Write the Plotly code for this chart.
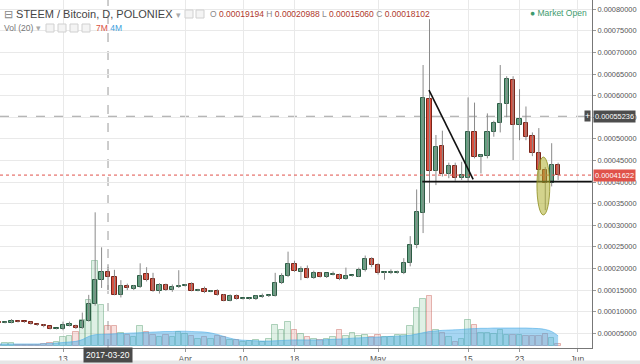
import plotly.graph_objects as go
import pandas as pd

# ---------------- data (prices in units of 1e-5 BTC, volume in millions) -------------
PRICE_UNIT = 1e-5
dates = pd.date_range("2017-03-03", "2017-05-29", freq="D")

open_e5 = [
    7.55, 7.45, 7.5, 7.8, 7.7, 7.6, 7.1, 6.85, 6.6, 6.05,
    5.9, 6.9, 6.8, 6.15, 7.9, 11.7, 17.3, 19.194, 18.0, 13.8,
    15.9, 15.3, 15.8, 18.7, 17.5, 14.9, 16.1, 15.0, 15.8,
    16.0, 16.5, 14.9, 15.2, 14.7, 14.9, 13.9, 12.5, 13.6, 13.0,
    13.0, 12.9, 13.6, 13.6, 13.7, 16.7, 18.3, 21.0, 19.3, 19.9,
    17.9, 18.9, 18.0, 18.7, 18.5, 17.6, 18.3, 18.1, 19.7, 22.2,
    20.7, 19.0, 19.0, 19.0, 18.9, 21.2, 25.4, 32.8, 59.2, 42.6,
    48.4, 41.9, 43.7, 40.9, 40.9, 51.5, 45.9, 46.1, 51.7, 53.6,
    58.1, 63.6, 53.2, 53.6, 50.7, 46.8, 42.8, 39.7, 44.0]
high_e5 = [
    7.7, 7.7, 8.3, 7.9, 7.8, 7.7, 7.2, 7.1, 6.7, 6.2,
    7.7, 7.7, 7.0, 9.8, 13.9, 33.0, 24.9, 20.988, 19.7, 17.3,
    16.5, 16.2, 21.2, 20.3, 19.0, 16.6, 16.5, 16.3, 19.6,
    16.4, 16.8, 15.3, 15.8, 15.0, 15.2, 14.1, 14.0, 14.0, 13.2,
    13.2, 13.8, 14.2, 13.9, 19.0, 18.9, 23.9, 21.8, 20.5, 20.7,
    19.5, 19.2, 19.0, 19.3, 18.8, 20.2, 18.5, 20.2, 23.0, 22.6,
    21.2, 19.3, 19.8, 19.5, 22.4, 27.5, 38.3, 67.1, 77.7, 50.9,
    51.9, 44.5, 44.5, 44.7, 59.6, 58.4, 46.4, 55.9, 54.2, 67.1,
    64.5, 64.5, 61.5, 57.5, 51.5, 52.5, 43.5, 49.0, 44.5]
low_e5 = [
    7.3, 7.3, 7.3, 7.5, 7.4, 7.0, 6.7, 6.4, 5.9, 5.9,
    5.7, 6.6, 6.0, 6.0, 7.7, 11.4, 15.5, 15.06, 13.8, 13.3,
    15.0, 15.0, 15.5, 17.0, 14.6, 14.2, 14.8, 14.6, 15.5,
    15.8, 14.7, 14.7, 14.3, 14.5, 13.7, 12.4, 12.4, 12.8, 12.8,
    12.8, 12.7, 13.2, 13.4, 13.5, 16.4, 18.0, 19.2, 17.3, 17.7,
    17.6, 17.9, 17.8, 18.4, 17.3, 17.4, 18.1, 18.0, 19.3, 20.3,
    18.6, 17.4, 18.7, 18.8, 18.7, 20.5, 24.7, 28.2, 35.2, 39.3,
    41.3, 40.9, 40.3, 40.5, 40.3, 45.5, 42.0, 45.5, 50.5, 51.5,
    55.0, 45.1, 49.7, 49.7, 46.0, 40.3, 33.5, 39.0, 40.5]
close_e5 = [
    7.45, 7.5, 7.8, 7.7, 7.6, 7.15, 6.85, 6.8, 6.05, 6.1,
    6.9, 6.95, 6.15, 7.9, 11.8, 17.3, 19.1, 18.102, 13.9, 15.9,
    15.4, 15.9, 18.3, 17.3, 14.9, 16.1, 15.0, 15.7, 16.0,
    16.1, 14.9, 15.0, 14.6, 14.8, 13.9, 12.5, 13.6, 12.9, 13.0,
    13.0, 13.6, 13.6, 13.7, 16.6, 18.3, 21.0, 19.4, 20.0, 17.9,
    18.9, 18.0, 18.9, 18.7, 17.6, 18.3, 18.3, 19.7, 22.2, 20.7,
    18.9, 19.0, 19.0, 19.1, 21.2, 25.4, 33.0, 59.4, 42.6, 48.2,
    41.9, 43.7, 40.9, 41.6, 51.5, 45.9, 46.2, 51.7, 53.6, 58.1,
    63.8, 53.2, 54.5, 50.5, 46.8, 42.8, 39.7, 44.0, 41.622]
volume_m = [
    0.5, 1.2, 1.0, 0.4, 0.4, 0.5, 0.5, 0.7, 1.2, 1.5,
    3.1, 3.4, 4.8, 9.0, 16.0, 29.3, 14.0, 7.0, 7.0, 4.5,
    3.8, 3.0, 6.9, 5.0, 3.8, 3.0, 3.8, 3.0, 4.8,
    4.0, 3.5, 2.5, 3.0, 2.5, 3.5, 3.0, 2.0, 2.2, 1.5,
    1.8, 2.0, 1.5, 2.5, 7.2, 5.5, 8.3, 5.5, 4.0, 3.0,
    2.5, 2.0, 2.5, 3.0, 5.5, 3.5, 4.5, 3.5, 3.8, 3.2,
    3.8, 3.2, 3.0, 3.8, 3.8, 6.9, 13.0, 16.2, 17.2, 5.5,
    4.5, 3.0, 1.4, 2.4, 9.0, 7.2, 4.5, 4.5, 4.2, 5.5,
    3.8, 3.8, 3.8, 3.5, 3.5, 3.5, 4.2, 2.8, 0.8]
vol_ma_m = [
    0.7, 0.7, 0.7, 0.7, 0.7, 0.7, 0.7, 0.8, 0.9, 1.0,
    1.2, 1.4, 1.6, 2.2, 3.3, 3.9, 4.0, 4.1, 4.2, 4.3,
    4.4, 4.5, 4.6, 4.7, 4.8, 4.9, 5.0, 5.0, 5.1,
    5.1, 5.0, 4.9, 4.8, 4.5, 4.0, 3.3, 2.7, 2.2, 2.0,
    1.9, 1.8, 1.7, 1.7, 1.8, 1.9, 2.0, 2.1, 2.1, 2.1,
    2.1, 2.1, 2.2, 2.3, 2.4, 2.5, 2.7, 2.8, 2.9, 3.0,
    3.1, 3.2, 3.3, 3.4, 3.5, 3.7, 4.1, 4.6, 5.0, 5.2,
    5.4, 5.5, 5.6, 5.7, 5.9, 6.0, 6.1, 6.1, 6.2, 6.2,
    6.2, 6.2, 6.2, 6.2, 6.1, 6.0, 5.7, 5.0, 3.5]

x_tick_dates = ["2017-03-13", "2017-04-01", "2017-04-10", "2017-04-18",
                "2017-05-01", "2017-05-15", "2017-05-23", "2017-06-01"]
x_tick_text = ["13", "Apr", "10", "18", "May", "15", "23", "Jun"]
y_tick_vals = [0.00005 * k for k in range(1, 17)]

header_title = "STEEM / Bitcoin, D, POLONIEX"
ohlc_hover = {"O": "0.00019194", "H": "0.00020988", "L": "0.00015060", "C": "0.00018102"}
crosshair_date = "2017-03-20"
last_price = 0.00041622
marked_price = 0.00055236
support_line = {"x": ["2017-05-07 21:00", "2017-06-03 06:00"], "y": [0.000401, 0.000401]}
trend_line = {"x": ["2017-05-08 22:00", "2017-05-15 19:00"], "y": [0.000613, 0.0004065]}
highlight_ellipse = {"x": ["2017-05-25 17:00", "2017-05-27 17:00"], "y": [0.000324, 0.000458]}

# ---------------- derived ----------------
o = [v * PRICE_UNIT for v in open_e5]
h = [v * PRICE_UNIT for v in high_e5]
l = [v * PRICE_UNIT for v in low_e5]
c = [v * PRICE_UNIT for v in close_e5]
up = [cc >= oo for oo, cc in zip(o, c)]

MIN_BODY = 0.25e-5
body_base, body_h = [], []
for oo, cc in zip(o, c):
    hh = abs(cc - oo)
    if hh < MIN_BODY:
        body_base.append((oo + cc) / 2 - MIN_BODY / 2)
        body_h.append(MIN_BODY)
    else:
        body_base.append(min(oo, cc))
        body_h.append(hh)

wx, wy = [], []
for d, lo, hi in zip(dates, l, h):
    wx += [d, d, None]
    wy += [lo, hi, None]

DAY_MS = 86400000
UP_FILL, UP_LINE = "#63a282", "#2c5c44"
DN_FILL, DN_LINE = "#d9503f", "#7a2419"

fig = go.Figure()

# volume MA area (base axis y)
fig.add_trace(go.Scatter(x=dates, y=vol_ma_m, mode="lines", fill="tozeroy",
                         line=dict(color="rgba(70,170,230,0.55)", width=1, shape="spline"),
                         fillcolor="rgba(70,170,230,0.48)", yaxis="y", hoverinfo="skip"))
# volume bars
fig.add_trace(go.Bar(x=dates, y=volume_m, yaxis="y", width=0.85 * DAY_MS,
                     marker=dict(color=["rgba(110,185,135,0.22)" if u else "rgba(225,120,110,0.22)" for u in up],
                                 line=dict(color=["rgba(90,160,115,0.45)" if u else "rgba(200,100,90,0.45)" for u in up],
                                           width=1)),
                     hoverinfo="skip"))
# wicks
fig.add_trace(go.Scatter(x=wx, y=wy, mode="lines", yaxis="y2",
                         line=dict(color="#8a8a8a", width=1), hoverinfo="skip"))
# bodies
fig.add_trace(go.Bar(x=dates, y=body_h, base=body_base, yaxis="y2", width=0.66 * DAY_MS,
                     marker=dict(color=[UP_FILL if u else DN_FILL for u in up],
                                 line=dict(color=[UP_LINE if u else DN_LINE for u in up], width=1)),
                     hoverinfo="skip"))

# ---------------- layout ----------------
W, H = 640, 364
PL, PR, PT, PB = 0, 48, 0, 16
PW, PH = W - PL - PR, H - PT - PB


def px(xp):
    return (xp - PL) / PW


def py(yp):
    return (PH + PT - yp) / PH


FONT = "Liberation Sans, Arial, sans-serif"

shapes = [
    # crosshair
    dict(type="line", xref="x", yref="paper", x0=crosshair_date, x1=crosshair_date, y0=0, y1=1,
         line=dict(color="#9a9a9a", width=1, dash="dash"), layer="below"),
    dict(type="line", xref="paper", yref="y2", x0=0, x1=1, y0=marked_price, y1=marked_price,
         line=dict(color="#a0a0a0", width=1, dash="dash"), layer="below"),
    dict(type="line", xref="paper", yref="y2", x0=0, x1=1, y0=last_price, y1=last_price,
         line=dict(color="#e0524a", width=1, dash="dot"), layer="above"),
    dict(type="line", xref="x", yref="y2", x0=support_line["x"][0], x1=support_line["x"][1],
         y0=support_line["y"][0], y1=support_line["y"][1], line=dict(color="#111", width=1.6)),
    dict(type="line", xref="x", yref="y2", x0=trend_line["x"][0], x1=trend_line["x"][1],
         y0=trend_line["y"][0], y1=trend_line["y"][1], line=dict(color="#111", width=1.6)),
    dict(type="circle", xref="x", yref="y2", x0=highlight_ellipse["x"][0], x1=highlight_ellipse["x"][1],
         y0=highlight_ellipse["y"][0], y1=highlight_ellipse["y"][1],
         fillcolor="rgba(175,175,45,0.55)", line=dict(color="rgba(140,140,30,0.8)", width=1)),
    # bottom grey strip
    dict(type="rect", xref="paper", yref="paper", x0=0, x1=px(W), y0=py(H + 2), y1=py(360.5),
         fillcolor="#e6e6e6", line=dict(width=0)),
]
# header icon squares
for x0 in [185, 196]:
    shapes.append(dict(type="rect", xref="paper", yref="paper", x0=px(x0), x1=px(x0 + 8),
                       y0=py(18), y1=py(10), line=dict(color="#d0d0d0", width=1), fillcolor="#f4f4f4"))
for x0 in [46, 58, 70, 82]:
    shapes.append(dict(type="rect", xref="paper", yref="paper", x0=px(x0), x1=px(x0 + 8),
                       y0=py(32), y1=py(24), line=dict(color="#d0d0d0", width=1), fillcolor="#f4f4f4"))

grey = "#8a8a8a"
red_t = "#b0392c"
ohlc_txt = " ".join(f"<span style='color:{grey}'>{k}</span> <span style='color:{red_t}'>{v}</span>"
                    for k, v in ohlc_hover.items())

annotations = [
    dict(x=px(2), y=py(14), xref="paper", yref="paper", xanchor="left", yanchor="middle", showarrow=False,
         text=f"<span style='color:#888'>⊟</span> {header_title} <span style='color:#aaa;font-size:9px'>▾</span>",
         font=dict(family=FONT, size=11, color="#444")),
    dict(x=px(208), y=py(14), xref="paper", yref="paper", xanchor="left", yanchor="middle", showarrow=False,
         text=ohlc_txt, font=dict(family=FONT, size=8.5, color=grey)),
    dict(x=px(2), y=py(28), xref="paper", yref="paper", xanchor="left", yanchor="middle", showarrow=False,
         text="Vol (20) <span style='color:#aaa'>▾</span>", font=dict(family=FONT, size=8.5, color="#777")),
    dict(x=px(94), y=py(28), xref="paper", yref="paper", xanchor="left", yanchor="middle", showarrow=False,
         text="<span style='color:#d9503f'>7M</span> <span style='color:#3ca0dc'>4M</span>",
         font=dict(family=FONT, size=8.5)),
    dict(x=px(589), y=py(13), xref="paper", yref="paper", xanchor="right", yanchor="middle", showarrow=False,
         text="● Market Open", font=dict(family=FONT, size=8.5, color="#3d9a6e")),
    # price labels
    dict(x=px(593), y=last_price, xref="paper", yref="y2", xanchor="left", yanchor="middle", showarrow=False,
         text="0.00041622", bgcolor="#e0524a", borderpad=1, font=dict(family=FONT, size=7.4, color="white")),
    dict(x=px(593), y=marked_price, xref="paper", yref="y2", xanchor="left", yanchor="middle", showarrow=False,
         text="0.00055236", bgcolor="#4d4d4d", borderpad=1, font=dict(family=FONT, size=7.4, color="white")),
    dict(x=px(591), y=marked_price, xref="paper", yref="y2", xanchor="right", yanchor="middle", showarrow=False,
         text="+", bgcolor="#4d4d4d", borderpad=0, font=dict(family=FONT, size=9, color="white")),
    # crosshair date label
    dict(x=crosshair_date, y=py(355), xref="x", yref="paper", xanchor="center", yanchor="middle", showarrow=False,
         text=crosshair_date, bgcolor="#4a4a4a", borderpad=2, font=dict(family=FONT, size=8.5, color="white")),
]

fig.update_layout(
    width=W, height=H, margin=dict(l=PL, r=PR, t=PT, b=PB),
    paper_bgcolor="white", plot_bgcolor="white", showlegend=False, barmode="overlay",
    bargap=0,
    xaxis=dict(type="date", range=["2017-03-03 04:48", "2017-06-03 06:30"],
               tickvals=x_tick_dates, ticktext=x_tick_text, showgrid=True, gridcolor="#e9e9e9",
               ticks="outside", ticklen=3, tickcolor="#999", showline=True, linecolor="#777",
               tickfont=dict(family=FONT, size=8.5, color="#555"), zeroline=False, fixedrange=True),
    yaxis=dict(range=[-0.69, 119.3], visible=False, fixedrange=True),
    yaxis2=dict(overlaying="y", side="right", range=[1.597e-5, 8.215e-4], tickvals=y_tick_vals,
                tickformat=".8f", showgrid=True, gridcolor="#e9e9e9", ticks="outside", ticklen=3,
                tickcolor="#999", showline=True, linecolor="#777", zeroline=False,
                tickfont=dict(family=FONT, size=7.4, color="#555"), fixedrange=True),
    shapes=shapes, annotations=annotations,
)

fig.write_html("out.html", config={"displayModeBar": False},
               post_script="document.body.style.margin='0';document.body.style.overflow='hidden';")
